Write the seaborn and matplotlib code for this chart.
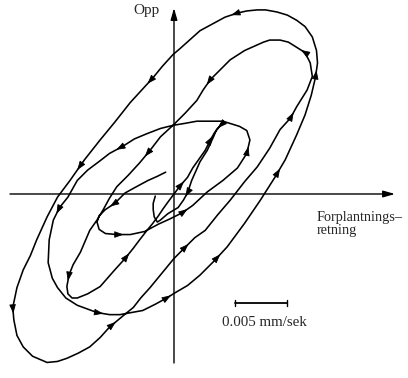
import numpy as np
import pandas as pd
import seaborn as sns
import matplotlib
matplotlib.use("Agg")
import matplotlib.pyplot as plt

# Particle-velocity trajectory in the vertical plane, units of 1e-4 mm/s
# (horizontal = along the propagation direction, vertical = up)
vel_x = [-8, -16, -25, -38, -47, -57, -66, -72, -74, -72, -66, -55, -42, -28, -15, -4,
         8, 18, 32, 47, 61, 70, 73, 70, 63, 47, 35, 22, 11, -1, -13, -26, -38, -49,
         -62, -71, -83, -93, -102, -110, -116, -120, -121, -117, -112, -104, -93, -74,
         -62, -52, -30, -18, -7, 1, 13, 25, 38, 51, 68, 83, 97, 107, 118, 126, 132,
         136, 138, 137, 133, 126, 118, 109, 99, 88, 80, 70, 61, 49, 38, 25, 15, 6, -1,
         -11, -20, -31, -42, -57, -71, -86, -100, -112, -122, -132, -138, -145, -151,
         -155, -154, -151, -145, -136, -122, -112, -103, -92, -81, -71, -62, -50, -39, -32,
         -23, -9, 0, 8, 20, 30, 42, 54, 68, 80, 92, 102, 112, 118, 128, 133, 131, 126,
         118, 110, 102, 92, 86, 68, 54, 44, 35, 28, 22, 11, -1, -13, -23, -33, -44, -55,
         -62, -68, -74, -81, -90, -97, -101, -103, -102, -98, -93, -83, -71, -57, -47,
         -39, -33, -26, -21, -15, -11, -6, 0, 6, 13, 18, 25, 30, 35, 39, 43, 47, 44, 41,
         38, 32, 25, 17, 13, 9, 4, -6, -13, -16, -19, -20, -20, -18]
vel_y = [21, 17, 13, 6, 1, -9, -15, -21, -27, -34, -38, -39, -39, -36, -29, -24,
         -18, -11, 2, 13, 25, 39, 52, 61, 65, 70, 70, 70, 68, 66, 63, 58, 53, 46,
         39, 32, 23, 13, -3, -13, -25, -44, -66, -81, -90, -100, -107, -114,
         -116, -116, -112, -106, -100, -95, -88, -78, -65, -51, -28, -6, 16, 33, 57, 76, 95,
         112, 126, 138, 151, 161, 167, 172, 175, 177, 177, 176, 174, 170, 164, 157, 148, 140, 134,
         123, 112, 100, 88, 69, 52, 33, 13, -3, -22, -44, -59, -73, -90,
         -109, -121, -136, -147, -156, -162, -161, -158, -153, -147, -138, -128, -118, -109, -100,
         -90, -73, -62, -54, -42, -35, -20, -6, 12, 26, 44, 62, 73, 84, 100, 113, 126, 136,
         141, 146, 148, 148, 146, 138, 129, 119, 110, 100, 90, 78, 66, 55, 42, 30, 18, 7,
         -4, -15, -25, -35, -56, -68, -78, -89, -96, -100, -100, -96, -89, -73, -62,
         -52, -44, -35, -29, -21, -15, -8, 0, 8, 16, 25, 35, 42, 52, 59, 64, 70, 65, 62,
         55, 42, 31, 13, 1, -6, -13, -19, -25, -27, -22, -15, -9, -2]

# Segments (start index) that carry a direction arrowhead
arrow_at = [5, 11, 16, 21, 33, 39, 47, 52, 56, 60, 65, 76, 84, 89, 97, 108, 115,
            124, 129, 138, 144, 154, 162, 171, 176, 180, 186]

# Scale bar: 0.005 mm/s expressed in the same 1e-4 mm/s units
scale_value = 50
scale_label = "0.005 mm/sek"
x_label = "Forplantnings–\nretning"
y_label = "Opp"

sns.set_style("white")
plt.rcParams["font.family"] = ["Liberation Serif", "DejaVu Serif"]

fig = plt.figure(figsize=(4.08, 3.78), dpi=100)
ax = fig.add_axes([0, 0, 1, 1])
xmin, xmax = -167.3, 225.0
ymin, ymax = -176.9, 186.5
ax.set_xlim(xmin, xmax)
ax.set_ylim(ymin, ymax)
ax.set_aspect("equal")
ax.axis("off")

df = pd.DataFrame({"x": vel_x, "y": vel_y, "t": np.arange(len(vel_x))})
sns.lineplot(data=df, x="x", y="y", sort=False, estimator=None,
             color="black", lw=1.15, ax=ax, legend=False)

# Arrowheads along the trajectory, pointing in the direction of motion
for i in arrow_at:
    x0, y0 = vel_x[i], vel_y[i]
    x1, y1 = vel_x[i + 1], vel_y[i + 1]
    xm, ym = (x0 + x1) / 2, (y0 + y1) / 2
    ax.annotate("", xy=(xm, ym), xytext=(x0, y0),
                arrowprops=dict(arrowstyle="-|>,head_length=0.55,head_width=0.2",
                                color="black", lw=0.6, shrinkA=0, shrinkB=0))

# Coordinate axes through the origin
ax.annotate("", xy=(xmax - 12.5, 0), xytext=(xmin + 9.6, 0),
            arrowprops=dict(arrowstyle="-|>,head_length=0.7,head_width=0.2",
                            color="black", lw=1.0, shrinkA=0, shrinkB=0))
ax.annotate("", xy=(0, ymax - 7.7), xytext=(0, ymin + 14.4),
            arrowprops=dict(arrowstyle="-|>,head_length=0.7,head_width=0.2",
                            color="black", lw=1.0, shrinkA=0, shrinkB=0))

ax.text(-13.5, 176, y_label, ha="right", va="center", fontsize=11)
ax.text(137.5, -16, x_label, ha="left", va="top", fontsize=10.3, linespacing=1.05)

# Scale bar
sb_x0, sb_y = 58.7, -104.8
ax.plot([sb_x0, sb_x0 + scale_value], [sb_y, sb_y], color="black", lw=1.3)
for xe in (sb_x0, sb_x0 + scale_value):
    ax.plot([xe, xe], [sb_y - 2.8, sb_y + 2.8], color="black", lw=1.0)
ax.text(sb_x0 + scale_value / 2 + 3, -124, scale_label, ha="center", va="center",
        fontsize=10.8)

fig.savefig("out.png", dpi=100, facecolor="white")
